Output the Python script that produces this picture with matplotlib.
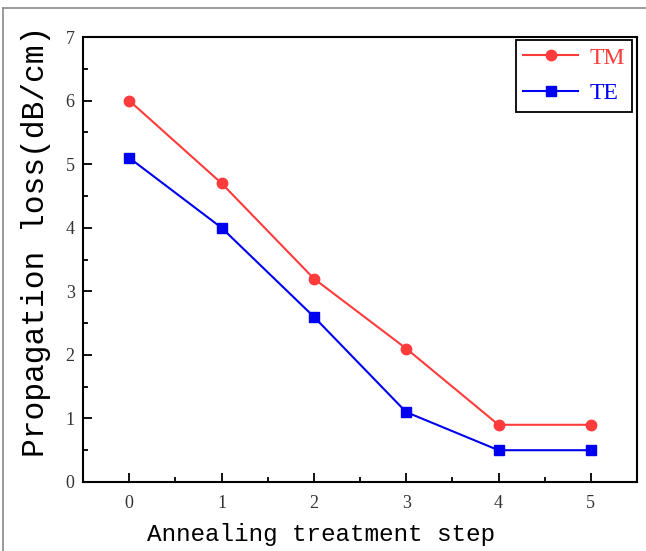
import matplotlib
matplotlib.use("Agg")
import matplotlib.pyplot as plt
from matplotlib.ticker import MultipleLocator
from matplotlib.lines import Line2D

steps = [0, 1, 2, 3, 4, 5]
tm_loss = [6.0, 4.7, 3.2, 2.1, 0.9, 0.9]
te_loss = [5.1, 4.0, 2.6, 1.1, 0.5, 0.5]
series_labels = ["TM", "TE"]
x_label = "Annealing treatment step"
y_label = "Propagation loss(dB/cm)"

red = "#FF3B3B"
blue = "#0000F0"

fig = plt.figure(figsize=(6.46, 5.51), dpi=100)
# outer gray picture frame (top and left edges visible)
fig.add_artist(Line2D([3/646, 3/646], [0, 1 - 8/551], transform=fig.transFigure,
                      color="#8a8a8a", lw=1.2))
fig.add_artist(Line2D([3/646, 1], [1 - 8/551, 1 - 8/551], transform=fig.transFigure,
                      color="#8a8a8a", lw=1.2))

ax = fig.add_axes([83/646, 1 - 482/551, (637 - 83)/646, (482 - 37)/551])

ax.plot(steps, tm_loss, color=red, lw=1.5, marker="o", ms=7.5, label=series_labels[0])
ax.plot(steps, te_loss, color=blue, lw=1.5, marker="s", ms=7, label=series_labels[1])

ax.set_xlim(-0.5, 5.5)
ax.set_ylim(0, 7)
ax.xaxis.set_major_locator(MultipleLocator(1))
ax.xaxis.set_minor_locator(MultipleLocator(0.5))
ax.yaxis.set_major_locator(MultipleLocator(1))
ax.yaxis.set_minor_locator(MultipleLocator(0.5))

for s in ax.spines.values():
    s.set_linewidth(1.5)
    s.set_color("black")

ax.tick_params(which="both", direction="in", width=1.3, colors="black",
               labelcolor="#333333")
ax.tick_params(which="major", length=6.5)
ax.tick_params(which="minor", length=3.5)
ax.tick_params(axis="x", which="major", pad=9)
ax.tick_params(axis="y", which="major", pad=6)
for lab in ax.get_xticklabels() + ax.get_yticklabels():
    lab.set_fontfamily("Liberation Serif")
    lab.set_fontsize(13)

ax.set_xlabel(x_label, fontfamily="Liberation Mono", fontsize=17.5, color="black")
ax.xaxis.set_label_coords(0.43, -0.092)
ax.set_ylabel(y_label, fontfamily="Liberation Mono", fontsize=22.5, color="black",
              va="center")
ax.yaxis.set_label_coords(-0.085, 0.54)

leg = ax.legend(loc="upper right", bbox_to_anchor=(0.991, 0.993), frameon=True,
                fancybox=False, edgecolor="black", framealpha=1,
                prop={"family": "Liberation Serif", "size": 17},
                handlelength=2.3, handletextpad=0.5, borderpad=0.3,
                labelspacing=0.6, borderaxespad=0.0)
leg.get_frame().set_linewidth(1.3)
for txt, c in zip(leg.get_texts(), [red, blue]):
    txt.set_color(c)

fig.savefig("out.png", dpi=100)
